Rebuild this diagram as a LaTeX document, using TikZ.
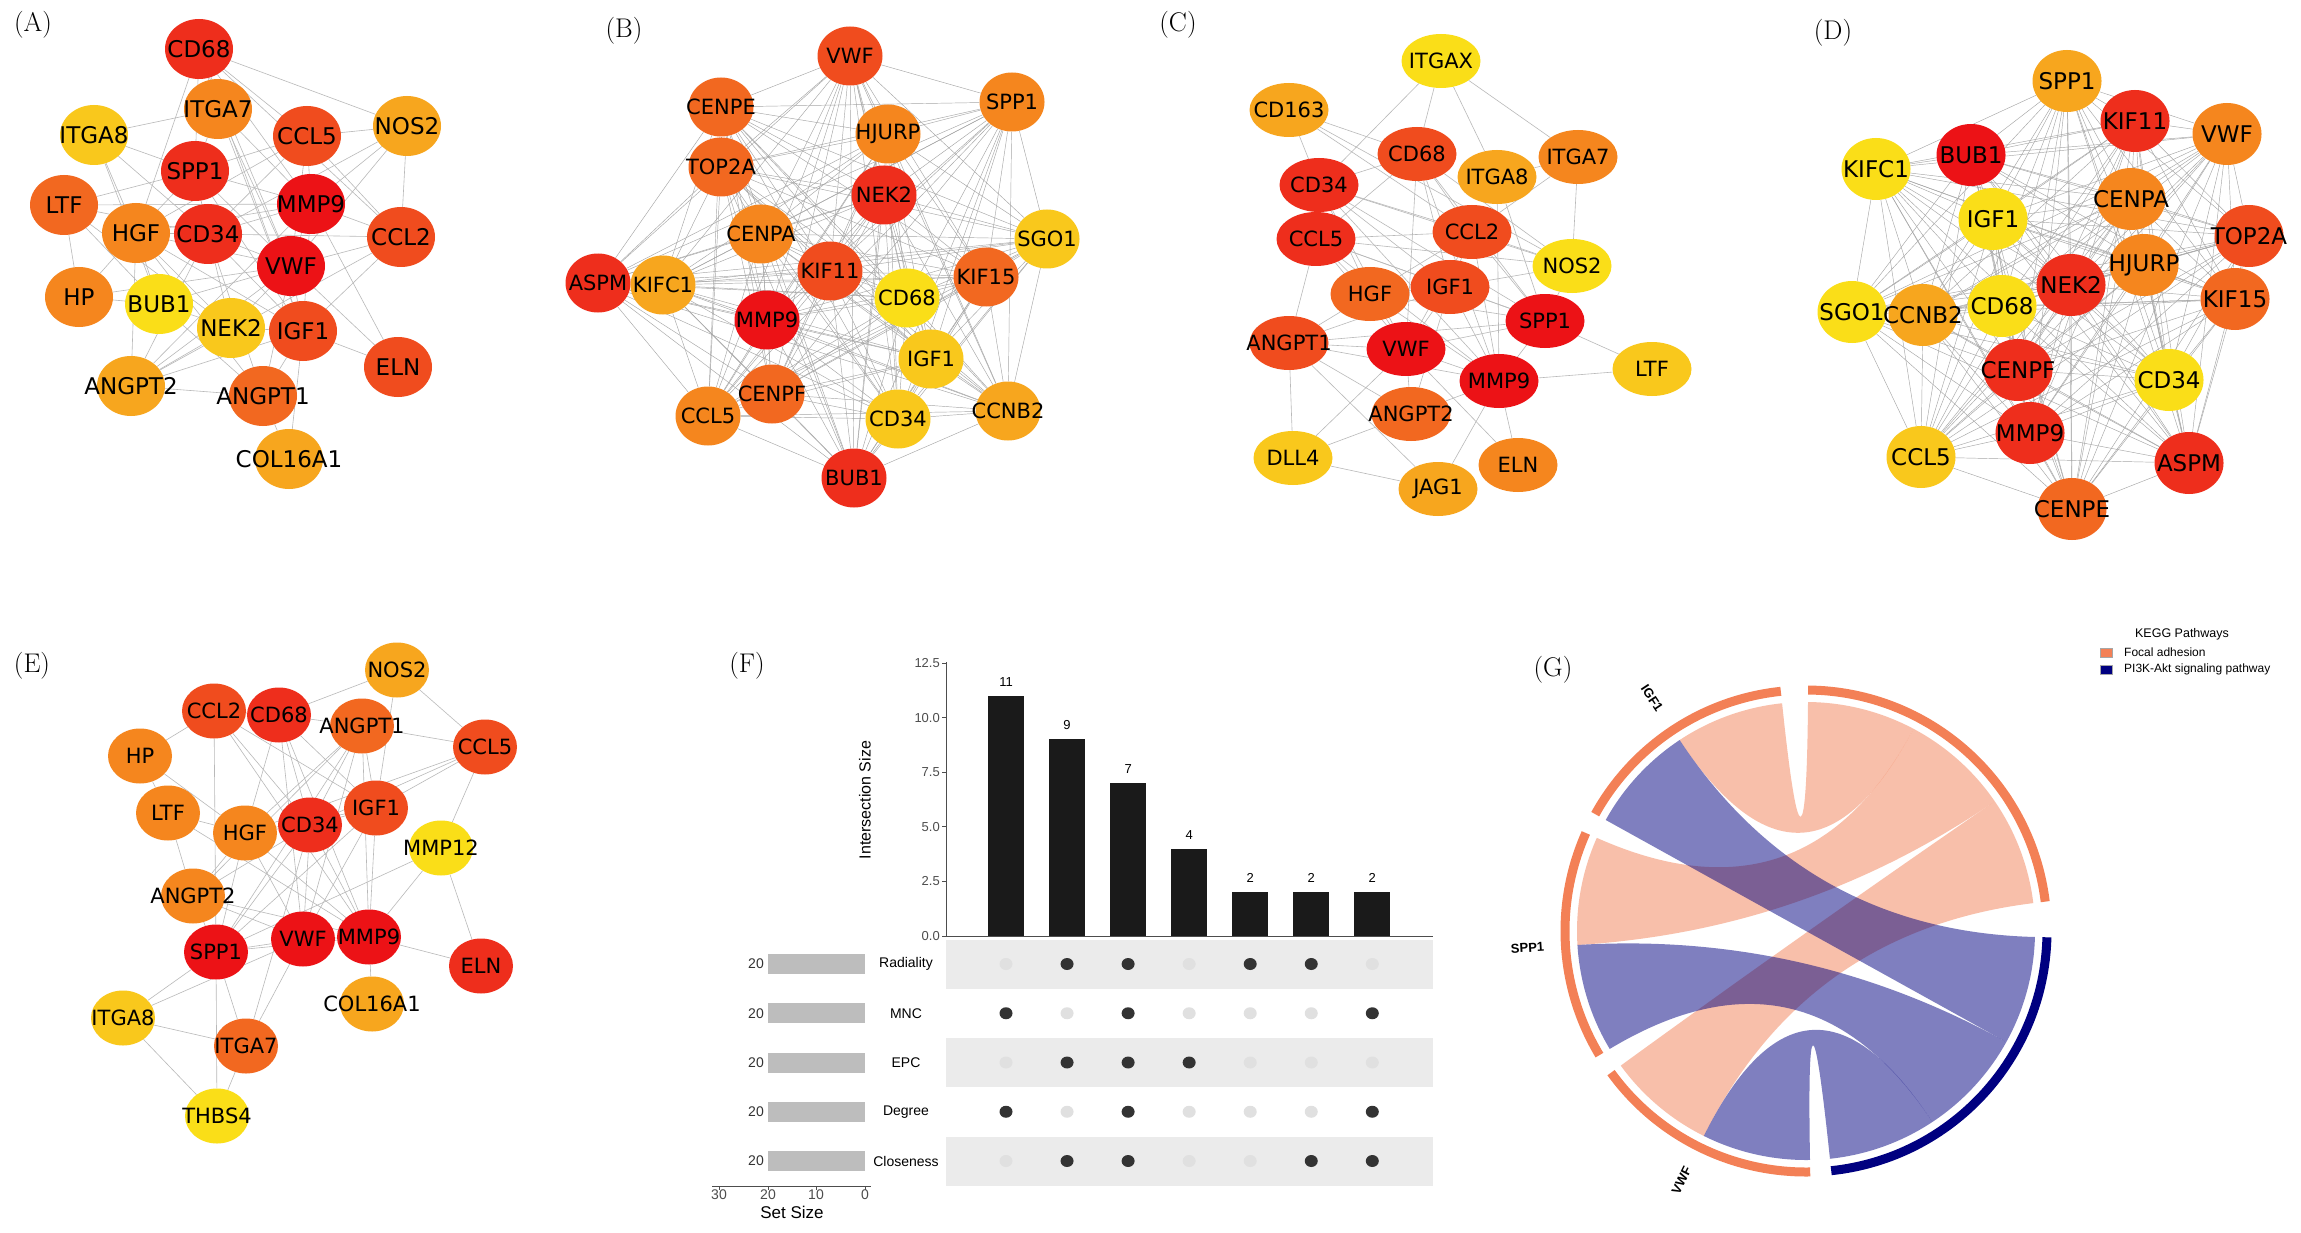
\documentclass[tikz,border=0pt]{standalone}
\usepackage{fontspec}
\usepackage{tikz}
\usetikzlibrary{shapes.geometric, calc}
\newfontfamily\genefont{DejaVu Sans}
\newfontfamily\chartfont{Liberation Sans}
\definecolor{g1}{RGB}{236,18,22}
\definecolor{g2}{RGB}{238,46,28}
\definecolor{g3}{RGB}{240,76,30}
\definecolor{g4}{RGB}{242,104,32}
\definecolor{g5}{RGB}{245,134,30}
\definecolor{g6}{RGB}{247,166,30}
\definecolor{g7}{RGB}{249,200,28}
\definecolor{g8}{RGB}{250,222,24}
\definecolor{fa}{RGB}{243,128,86}
\definecolor{pik}{RGB}{0,0,128}
\definecolor{axgray}{RGB}{77,77,77}
\definecolor{barblack}{RGB}{26,26,26}
\definecolor{setgray}{RGB}{189,189,189}
\definecolor{bandgray}{RGB}{235,235,235}
\definecolor{dotdark}{RGB}{51,51,51}
\definecolor{dotlight}{RGB}{224,224,224}
\pgfdeclarelayer{bg}
\pgfsetlayers{bg,main}
\newcommand\chordlink[5]{%
  \fill[#5] (#1:229) arc[start angle=#1, end angle=#2, radius=229]
    .. controls ($(#2:229)!0.6667!(0,0)$) and ($(#3:229)!0.6667!(0,0)$) .. (#3:229)
    arc[start angle=#3, end angle=#4, radius=229]
    .. controls ($(#4:229)!0.6667!(0,0)$) and ($(#1:229)!0.6667!(0,0)$) .. (#1:229) -- cycle;}
\def\blist{VWF,CENPE,SPP1,HJURP,TOP2A,NEK2,CENPA,SGO1,ASPM,KIFC1,KIF11,KIF15,CD68,MMP9,IGF1,CENPF,CCL5,CD34,CCNB2,BUB1}
\def\dlist{SPP1,KIF11,VWF,BUB1,KIFC1,CENPA,IGF1,TOP2A,HJURP,NEK2,KIF15,SGO1,CCNB2,CD68,CENPF,CD34,MMP9,CCL5,ASPM,CENPE}

\begin{document}
\begin{tikzpicture}[x=1pt, y=-1pt,
    gnode/.style={ellipse, draw=none, fill=#1, inner sep=0pt},
    anode/.style={gnode=#1, minimum width=68, minimum height=60, font=\genefont\fontsize{23}{23}\selectfont},
    bnode/.style={gnode=#1, minimum width=65, minimum height=59, font=\genefont\fontsize{21}{21}\selectfont},
    cnode/.style={gnode=#1, minimum width=79, minimum height=54, font=\genefont\fontsize{21}{21}\selectfont},
    dnode/.style={gnode=#1, minimum width=69, minimum height=62, font=\genefont\fontsize{23}{23}\selectfont},
    enode/.style={gnode=#1, minimum width=64, minimum height=55, font=\genefont\fontsize{21}{21}\selectfont},
    ppi/.style={draw=gray!55, line width=0.6},
    dense/.style={draw=gray!70, line width=0.45},
    panel/.style={inner sep=0pt, font=\fontsize{27}{27}\selectfont},
    ticklab/.style={inner sep=0pt, text=axgray, font=\chartfont\fontsize{13}{13}\selectfont},
    setlab/.style={inner sep=0pt, font=\chartfont\fontsize{14}{14}\selectfont},
    axisln/.style={draw=axgray, line width=1},
    fachord/.style={fill=fa, fill opacity=0.5},
    pichord/.style={fill=pik, fill opacity=0.5},
    ringlab/.style={inner sep=0pt, font=\chartfont\bfseries\fontsize{13}{13}\selectfont},
    legtext/.style={inner sep=0pt, anchor=west, font=\chartfont\fontsize{12}{12}\selectfont}
  ]
\useasboundingbox (0,0) rectangle (2301,1233);

\node[panel] (labA) at (33,25) {(A)};
\node[panel] (labB) at (624,31) {(B)};
\node[panel] (labC) at (1178,25) {(C)};
\node[panel] (labD) at (1833,33) {(D)};
\node[panel] (labE) at (32,666) {(E)};
\node[panel] (labF) at (747,666) {(F)};
\node[panel] (labG) at (1553,670) {(G)};

\foreach \g/\x/\y/\c in {CD68/199/49/g2, ITGA7/218/109/g5, ITGA8/94/135/g7, CCL5/307/136/g3,
    NOS2/407/126/g6, SPP1/195/171/g2, MMP9/311/204/g1, LTF/64/205/g4, HGF/136/233/g5,
    CD34/208/234/g2, CCL2/401/237/g3, VWF/291/266/g1, HP/79/297/g5, BUB1/159/304/g8,
    NEK2/231/328/g7, IGF1/303/331/g3, ELN/398/367/g3, ANGPT2/131/386/g6,
    ANGPT1/263/396/g4, COL16A1/289/459/g6}
  \node[anode=\c] (a\g) at (\x,\y) {\makebox[0pt]{\g}};

\foreach \g/\x/\y/\c in {VWF/850/56/g3, CENPE/721/107/g4, SPP1/1012/102/g5, HJURP/888/134/g5,
    TOP2A/721/167/g4, NEK2/884/195/g2, CENPA/761/234/g5, SGO1/1047/239/g7, ASPM/598/283/g2,
    KIFC1/663/285/g6, KIF11/830/271/g3, KIF15/986/277/g4, CD68/907/298/g8, MMP9/767/320/g1,
    IGF1/931/359/g7, CENPF/772/394/g4, CCL5/708/416/g5, CD34/898/419/g7, CCNB2/1008/411/g6,
    BUB1/854/478/g2}
  \node[bnode=\c] (b\g) at (\x,\y) {\makebox[0pt]{\g}};

\foreach \g/\x/\y/\c in {ITGAX/1441/61/g8, CD163/1289/110/g6, CD68/1417/154/g3, ITGA7/1578/157/g5,
    ITGA8/1497/177/g6, CD34/1319/185/g2, CCL5/1316/239/g2, CCL2/1472/232/g3, NOS2/1572/266/g8,
    HGF/1370/294/g4, IGF1/1450/287/g3, SPP1/1545/321/g1, ANGPT1/1289/343/g3, VWF/1406/349/g1,
    MMP9/1499/381/g1, LTF/1652/369/g7, ANGPT2/1411/414/g4, DLL4/1293/458/g7, ELN/1518/465/g5,
    JAG1/1438/489/g6}
  \node[cnode=\c] (c\g) at (\x,\y) {\makebox[0pt]{\g}};

\foreach \g/\x/\y/\c in {SPP1/2067/81/g6, KIF11/2135/121/g2, VWF/2227/134/g5, BUB1/1971/155/g1,
    KIFC1/1876/169/g8, CENPA/2131/199/g5, IGF1/1993/219/g8, TOP2A/2249/236/g3, HJURP/2144/265/g5,
    NEK2/2071/285/g2, KIF15/2235/299/g4, SGO1/1852/312/g8, CCNB2/1923/315/g6, CD68/2002/306/g8,
    CENPF/2018/370/g2, CD34/2169/380/g8, MMP9/2030/433/g2, CCL5/1921/457/g7, ASPM/2189/463/g2,
    CENPE/2072/509/g4}
  \node[dnode=\c] (d\g) at (\x,\y) {\makebox[0pt]{\g}};

\foreach \g/\x/\y/\c in {NOS2/397/670/g6, CCL2/214/711/g3, CD68/279/715/g2, ANGPT1/362/726/g4,
    CCL5/485/747/g3, HP/140/756/g5, LTF/168/813/g5, IGF1/376/808/g3, HGF/245/833/g5,
    CD34/310/825/g2, MMP12/441/848/g8, ANGPT2/193/896/g5, SPP1/216/952/g1, VWF/303/939/g1,
    MMP9/369/937/g1, ELN/481/966/g2, COL16A1/372/1004/g6, ITGA8/123/1018/g7,
    ITGA7/246/1046/g4, THBS4/217/1116/g8}
  \node[enode=\c] (e\g) at (\x,\y) {\makebox[0pt]{\g}};

\begin{pgfonlayer}{bg}
\fill[white] (0,0) rectangle (2301,1233);
\foreach \p/\q in {CD68/NOS2, CD68/ITGA7, CD68/CCL5, CD68/CCL2, CD68/HGF, CD68/MMP9, CD68/VWF,
    CD68/SPP1, CD68/IGF1, ITGA8/ITGA7, ITGA8/SPP1, ITGA8/CD34, ITGA8/HGF, ITGA8/BUB1,
    NOS2/CCL5, NOS2/CCL2, NOS2/MMP9, NOS2/CD34, NOS2/VWF, LTF/SPP1, LTF/MMP9, LTF/HP, LTF/CD34,
    LTF/BUB1, LTF/NEK2, HP/HGF, HP/VWF, HP/BUB1, CCL5/MMP9, CCL5/CCL2, CCL5/CD34, CCL5/SPP1,
    CCL5/HGF, CCL5/VWF, CCL2/MMP9, CCL2/CD34, CCL2/VWF, CCL2/IGF1, CCL2/ANGPT2, ELN/MMP9,
    ELN/IGF1, ELN/VWF, ANGPT2/ANGPT1, ANGPT2/HGF, ANGPT2/CD34, ANGPT2/VWF, ANGPT2/IGF1,
    ANGPT2/MMP9, ANGPT2/NEK2, ANGPT1/IGF1, ANGPT1/VWF, ANGPT1/CD34, ANGPT1/HGF, ANGPT1/BUB1,
    COL16A1/IGF1, COL16A1/ANGPT1, ITGA7/SPP1, ITGA7/VWF, ITGA7/IGF1, ITGA7/MMP9, SPP1/MMP9,
    SPP1/CD34, SPP1/VWF, SPP1/HGF, SPP1/IGF1, MMP9/CD34, MMP9/VWF, MMP9/IGF1, MMP9/HGF,
    HGF/CD34, HGF/VWF, HGF/IGF1, HGF/NEK2, HGF/BUB1, CD34/VWF, CD34/IGF1, CD34/NEK2, CD34/BUB1,
    VWF/IGF1, VWF/NEK2, VWF/BUB1, BUB1/NEK2, NEK2/IGF1}
  \draw[ppi] (a\p) -- (a\q);

\foreach \p [count=\i] in \blist {
  \foreach \q [count=\j] in \blist {
    \ifnum\j>\i \draw[dense] (b\p) -- (b\q); \fi
  }
}

\foreach \p/\q in {ITGAX/CD34, ITGAX/CD68, ITGAX/ITGA8, ITGAX/ITGA7, CD163/CD68, CD163/CD34,
    CD163/CCL2, CD163/NOS2, CD68/CD34, CD68/CCL5, CD68/CCL2, CD68/IGF1, CD68/SPP1, CD68/MMP9,
    CD68/VWF, CD68/NOS2, ITGA7/ITGA8, ITGA7/NOS2, ITGA7/CCL2, ITGA8/SPP1, ITGA8/MMP9, CD34/CCL5,
    CD34/CCL2, CD34/HGF, CD34/IGF1, CD34/VWF, CD34/MMP9, CD34/SPP1, CD34/NOS2, CCL5/CCL2,
    CCL5/HGF, CCL5/IGF1, CCL5/VWF, CCL5/MMP9, CCL5/ANGPT1, CCL5/NOS2, CCL5/SPP1, CCL2/NOS2,
    CCL2/IGF1, CCL2/SPP1, CCL2/MMP9, CCL2/VWF, CCL2/HGF, NOS2/SPP1, NOS2/IGF1, HGF/IGF1, HGF/VWF,
    HGF/ANGPT1, HGF/MMP9, HGF/SPP1, IGF1/SPP1, IGF1/VWF, IGF1/MMP9, IGF1/ANGPT1, IGF1/ANGPT2,
    SPP1/VWF, SPP1/MMP9, SPP1/LTF, SPP1/ANGPT1, ANGPT1/VWF, ANGPT1/MMP9, ANGPT1/ANGPT2,
    ANGPT1/DLL4, ANGPT1/JAG1, VWF/MMP9, VWF/ANGPT2, VWF/DLL4, VWF/ELN, MMP9/LTF, MMP9/ANGPT2,
    MMP9/ELN, MMP9/JAG1, ANGPT2/DLL4, DLL4/JAG1}
  \draw[ppi] (c\p) -- (c\q);

\foreach \p [count=\i] in \dlist {
  \foreach \q [count=\j] in \dlist {
    \ifnum\j>\i \draw[dense] (d\p) -- (d\q); \fi
  }
}

\foreach \p/\q in {NOS2/CD68, NOS2/CCL5, NOS2/IGF1, CCL2/HP, CCL2/CD68, CCL2/SPP1, CCL2/CD34,
    CCL2/IGF1, CCL2/MMP9, CD68/ANGPT1, CD68/CD34, CD68/IGF1, CD68/MMP9, CD68/VWF, CD68/HGF,
    ANGPT1/CCL5, ANGPT1/CD34, ANGPT1/HGF, ANGPT1/IGF1, ANGPT1/VWF, ANGPT1/MMP9, ANGPT1/SPP1,
    ANGPT1/ANGPT2, CCL5/IGF1, CCL5/CD34, CCL5/MMP12, CCL5/HGF, HP/LTF, HP/HGF, LTF/HGF,
    LTF/ANGPT2, LTF/MMP9, IGF1/CD34, IGF1/MMP9, IGF1/VWF, IGF1/SPP1, IGF1/HGF, HGF/CD34,
    HGF/ANGPT2, HGF/SPP1, HGF/VWF, HGF/MMP9, CD34/VWF, CD34/MMP9, CD34/SPP1, CD34/ANGPT2,
    CD34/ITGA7, MMP12/MMP9, MMP12/ELN, MMP12/SPP1, ANGPT2/SPP1, ANGPT2/VWF, ANGPT2/MMP9,
    SPP1/VWF, SPP1/MMP9, SPP1/ITGA8, SPP1/ITGA7, SPP1/THBS4, VWF/MMP9, VWF/ITGA7, VWF/ITGA8,
    MMP9/ELN, MMP9/COL16A1, ITGA8/ITGA7, ITGA8/THBS4, ITGA7/THBS4}
  \draw[ppi] (e\p) -- (e\q);
\end{pgfonlayer}

\draw[axisln] (946,662) -- (946,936);
\draw[axisln] (946,936) -- (1433,936);
\foreach \v/\lab [count=\k] in {0/0.0, 2.5/2.5, 5/5.0, 7.5/7.5, 10/10.0, 12.5/12.5} {
  \draw[axisln] (942,{936-21.84*\v}) -- (946,{936-21.84*\v});
  \node[ticklab, anchor=east] (ytick\k) at (940,{936-21.84*\v}) {\lab};
}
\foreach \h [count=\k] in {11,9,7,4,2,2,2} {
  \fill[barblack] ({1006+61.05*(\k-1)-18},935.5) rectangle ({1006+61.05*(\k-1)+18},{936-21.84*\h});
  \node[ticklab, text=black] (bar\k) at ({1006+61.05*(\k-1)},{922-21.84*\h}) {\h};
}
\node[inner sep=0pt, rotate=90, font=\chartfont\fontsize{16}{16}\selectfont] (isize) at (865,800) {Intersection Size};

\foreach \s/\r/\pat in {Radiality/0/{0,1,1,0,1,1,0}, MNC/1/{1,0,1,0,0,0,1}, EPC/2/{0,1,1,1,0,0,0},
    Degree/3/{1,0,1,0,0,0,1}, Closeness/4/{0,1,1,0,0,1,1}} {
  \pgfmathsetmacro\yy{964+49.25*\r}
  \ifodd\r\else \fill[bandgray] (946,\yy-24.5) rectangle (1433,\yy+24.5); \fi
  \fill[setgray] (768,\yy-10) rectangle (865,\yy+10);
  \node[setlab, anchor=east, text=dotdark] (n\s) at (764,\yy) {20};
  \node[setlab] (s\s) at (906,\yy) {\s};
  \foreach \d [count=\k] in \pat {
    \ifnum\d=1
      \fill[dotdark] ({1006+61.05*(\k-1)},\yy) ellipse [x radius=6.5, y radius=6];
    \else
      \fill[dotlight] ({1006+61.05*(\k-1)},\yy) ellipse [x radius=6.5, y radius=6];
    \fi
  }
}
\draw[axisln] (712,1186) -- (871,1186);
\foreach \v/\x in {30/719, 20/768, 10/816, 0/865} {
  \draw[axisln] (\x,1186) -- (\x,1190);
  \node[setlab, text=axgray, anchor=north] (sx\v) at (\x,1190) {\v};
}
\node[inner sep=0pt, font=\chartfont\fontsize{17}{17}\selectfont] (ssize) at (792,1212) {Set Size};

\begin{scope}[shift={(1806,931)}, y=1pt]
  \chordlink{96}{123.5}{62}{89.5}{fachord}
  \chordlink{156}{183.5}{34.5}{62}{fachord}
  \chordlink{216}{243.5}{7}{34.5}{fachord}
  \chordlink{123.5}{151}{331}{358.5}{pichord}
  \chordlink{183.5}{211}{303.5}{331}{pichord}
  \chordlink{243.5}{271}{276}{303.5}{pichord}
  \foreach \a/\b/\c in {7/89.5/fa, 96/151/fa, 156/211/fa, 216/271/fa, 276/358.5/pik}
    \draw[line width=9, \c] (\a:241) arc[start angle=\a, end angle=\b, radius=241];
  \node[ringlab, rotate=-56.5] (rIGF1) at (123.5:279) {IGF1};
  \node[ringlab, rotate=3.5] (rSPP1) at (183.5:279) {SPP1};
  \node[ringlab, rotate=63.5] (rVWF) at (243.5:279) {VWF};
\end{scope}

\node[inner sep=0pt, font=\chartfont\fontsize{12.5}{12.5}\selectfont] (kegg) at (2182,634) {KEGG Pathways};
\filldraw[draw=gray!70, fill=fa] (2100,648) rectangle (2112,657);
\filldraw[draw=gray!70, fill=pik] (2100,665) rectangle (2112,674);
\node[legtext] (lfa) at (2124,652.5) {Focal adhesion};
\node[legtext] (lpi) at (2124,669.5) {PI3K-Akt signaling pathway};
\end{tikzpicture}
\end{document}
